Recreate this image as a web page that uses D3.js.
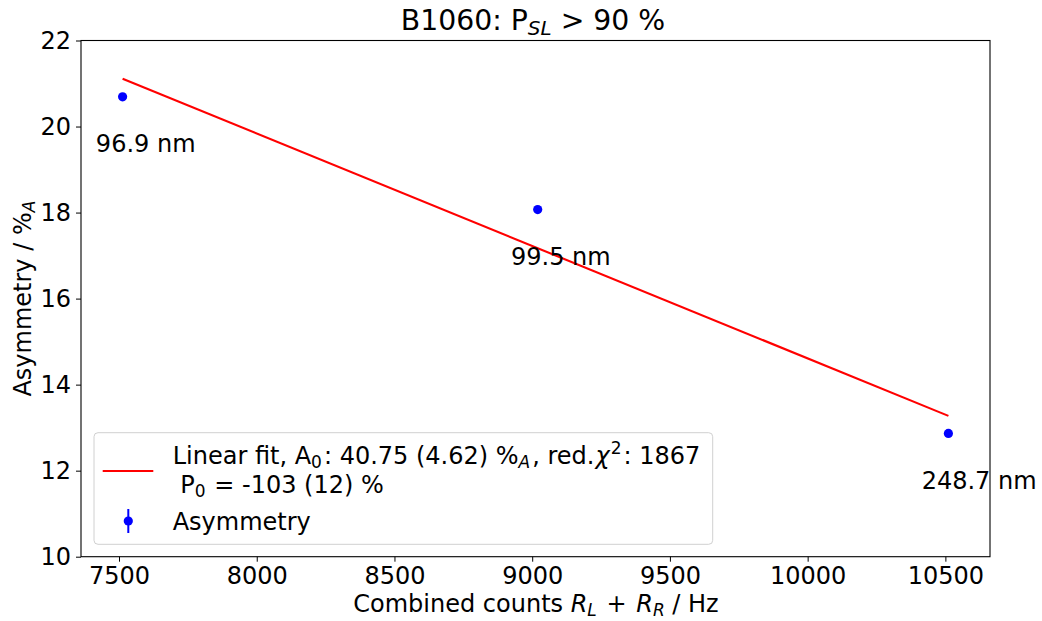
<!DOCTYPE html>
<html>
<head>
<meta charset="utf-8">
<script src="https://cdn.jsdelivr.net/npm/d3@7"></script>
<style>
  html, body { margin: 0; padding: 0; background: #fff; }
  svg { display: block; font-family: "DejaVu Sans", sans-serif; }
</style>
</head>
<body>
<svg id="chart" width="1042" height="621"></svg>
<script>
// Measured asymmetry versus combined rate
const rates = [7513, 9020, 10511];          // R_L + R_R / Hz
const asymmetry = [20.69, 18.07, 12.865];   // %_A
const thickness = ["96.9 nm", "99.5 nm", "248.7 nm"];

// Linear fit parameters
const fitIntercept = 40.75;
const fitSlope = -0.002614;

const xTicks = [7500, 8000, 8500, 9000, 9500, 10000, 10500];
const yTicks = [10, 12, 14, 16, 18, 20, 22];

const svg = d3.select("#chart");
const margin = { left: 81, right: 52, top: 40.5, bottom: 64.3 };
const W = 1042, H = 621;

const x = d3.scaleLinear().domain([7362, 10662]).range([margin.left, W - margin.right]);
const y = d3.scaleLinear().domain([10, 22]).range([H - margin.bottom, margin.top]);

const fs = 24, sub = 17;

// axes
const xAxis = svg.append("g")
  .attr("transform", `translate(0,${y(10)})`)
  .call(d3.axisBottom(x).tickValues(xTicks).tickSize(5).tickPadding(5).tickFormat(d3.format("d")));
const yAxis = svg.append("g")
  .attr("transform", `translate(${x.range()[0]},0)`)
  .call(d3.axisLeft(y).tickValues(yTicks).tickSize(5).tickPadding(5).tickFormat(d3.format("d")));
[xAxis, yAxis].forEach(g => {
  g.select(".domain").remove();
  g.selectAll(".tick line").attr("stroke", "#000").attr("stroke-width", 1);
  g.selectAll(".tick text").attr("fill", "#000").style("font-size", fs + "px")
    .style("font-family", "DejaVu Sans");
});

// frame
svg.append("rect")
  .attr("x", x.range()[0]).attr("y", y(22))
  .attr("width", x.range()[1] - x.range()[0])
  .attr("height", y(10) - y(22))
  .attr("fill", "none").attr("stroke", "#000").attr("stroke-width", 1.1);

// fit line across the measured range
const xExt = d3.extent(rates);
svg.append("line")
  .attr("x1", x(xExt[0])).attr("y1", y(fitIntercept + fitSlope * xExt[0]))
  .attr("x2", x(xExt[1])).attr("y2", y(fitIntercept + fitSlope * xExt[1]))
  .attr("stroke", "#ff0000").attr("stroke-width", 2.1);

// data points
svg.selectAll("circle.pt").data(rates).enter().append("circle")
  .attr("class", "pt")
  .attr("cx", d => x(d))
  .attr("cy", (d, i) => y(asymmetry[i]))
  .attr("r", 4.6)
  .attr("fill", "#0000ff");

// thickness annotations
svg.selectAll("text.ann").data(rates).enter().append("text")
  .attr("class", "ann")
  .attr("x", d => x(d - 97))
  .attr("y", (d, i) => y(asymmetry[i] - 1.28))
  .style("font-size", fs + "px")
  .attr("fill", "#000")
  .text((d, i) => thickness[i]);

// title
const title = svg.append("text")
  .attr("x", 533)
  .attr("y", 29.5)
  .attr("text-anchor", "middle")
  .style("font-size", "28.3px");
title.append("tspan").text("B1060: P");
title.append("tspan").attr("font-style", "italic").attr("font-size", "20px").attr("dy", 5).text("SL");
title.append("tspan").attr("dy", -5).text(" > 90 %");

// x label
const xl = svg.append("text")
  .attr("x", 536)
  .attr("y", 612)
  .attr("text-anchor", "middle")
  .attr("xml:space", "preserve").style("white-space", "pre")
  .style("font-size", fs + "px");
xl.append("tspan").text("Combined counts ");
xl.append("tspan").attr("font-style", "italic").text("R");
xl.append("tspan").attr("font-style", "italic").attr("font-size", sub + "px").attr("dy", 4).text("L");
xl.append("tspan").attr("dy", -4).attr("dx", 2).text(" + ");
xl.append("tspan").attr("dx", 2).attr("font-style", "italic").text("R");
xl.append("tspan").attr("font-style", "italic").attr("font-size", sub + "px").attr("dy", 4).text("R");
xl.append("tspan").attr("dy", -4).text(" / Hz");

// y label
const yl = svg.append("text")
  .attr("transform", `translate(31,${(y(10) + y(22)) / 2}) rotate(-90)`)
  .attr("text-anchor", "middle")
  .style("font-size", fs + "px");
yl.append("tspan").text("Asymmetry / %");
yl.append("tspan").attr("font-style", "italic").attr("font-size", sub + "px").attr("dy", 4).text("A");

// legend
const lg = svg.append("g");
lg.append("rect")
  .attr("x", 94).attr("y", 432.7).attr("width", 618.7).attr("height", 111.6)
  .attr("rx", 4).attr("ry", 4)
  .attr("fill", "#fff").attr("fill-opacity", 0.8)
  .attr("stroke", "#d0d0d0").attr("stroke-width", 1);
lg.append("line")
  .attr("x1", 102.7).attr("x2", 153.3).attr("y1", 471).attr("y2", 471)
  .attr("stroke", "#ff0000").attr("stroke-width", 2.1);
lg.append("line")
  .attr("x1", 128.3).attr("x2", 128.3).attr("y1", 509).attr("y2", 533)
  .attr("stroke", "#0000ff").attr("stroke-width", 2);
lg.append("circle").attr("cx", 128.3).attr("cy", 521).attr("r", 4.6).attr("fill", "#0000ff");

const l1 = lg.append("text").attr("x", 172.7).attr("y", 464.3).style("font-size", fs + "px")
  .attr("xml:space", "preserve").style("white-space", "pre");
l1.append("tspan").text("Linear fit, A");
l1.append("tspan").attr("font-size", sub + "px").attr("dy", 4).text("0");
l1.append("tspan").attr("dy", -4).attr("dx", 2).text(": 40.75 (4.62) %");
l1.append("tspan").attr("font-style", "italic").attr("font-size", sub + "px").attr("dy", 4).text("A");
l1.append("tspan").attr("dy", -4).attr("dx", 2).text(", red.");
l1.append("tspan").attr("dx", 1).attr("font-style", "italic").text("χ");
l1.append("tspan").attr("font-size", sub + "px").attr("dy", -10).attr("dx", 1).text("2");
l1.append("tspan").attr("dy", 10).attr("dx", 2).text(": 1867");

const l2 = lg.append("text").attr("x", 172.7).attr("y", 492.7).style("font-size", fs + "px")
  .attr("xml:space", "preserve").style("white-space", "pre");
l2.append("tspan").text(" P");
l2.append("tspan").attr("font-size", sub + "px").attr("dy", 4).text("0");
l2.append("tspan").attr("dy", -4).attr("dx", 1).text(" = -103 (12) %");

lg.append("text").attr("x", 172.7).attr("y", 530).style("font-size", fs + "px").text("Asymmetry");
</script>
</body>
</html>
